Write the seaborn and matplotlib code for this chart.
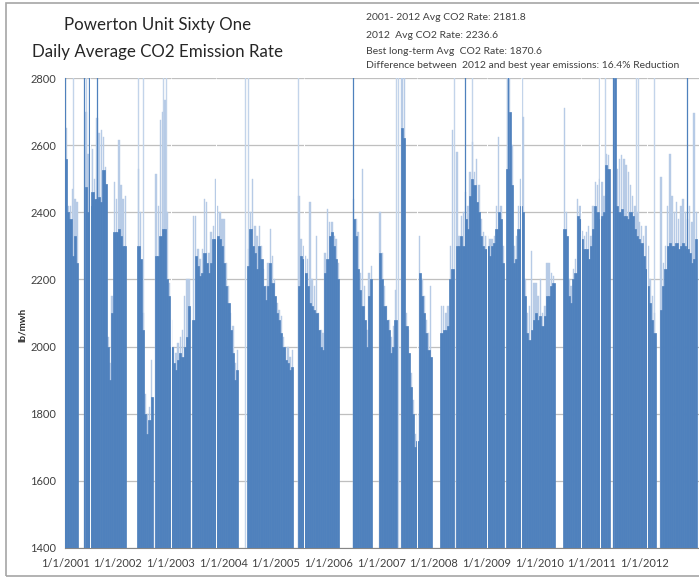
import numpy as np
import pandas as pd
import matplotlib
matplotlib.use('Agg')
import matplotlib.pyplot as plt
import seaborn as sb
from matplotlib.patches import Rectangle

# Semi-monthly typical daily CO2 rate (lb/mwh), 0 = unit offline
rate_2001 = [2560, 2400, 2380, 2270, 2330, 2250, 0, 0, 0, 2475, 2400, 2420, 2460, 2440, 2440, 2445, 2430, 2525, 2485, 2000, 1900, 2100, 2340, 2340]
rate_2002 = [2350, 2330, 2300, 2300, 0, 0, 0, 0, 0, 2300, 2260, 2050, 1800, 1740, 1780, 1850, 0, 2270, 2270, 2330, 2350, 2350, 2200, 2150]
rate_2003 = [2000, 1950, 1930, 1960, 1980, 1970, 2000, 2030, 2120, 0, 2080, 2270, 2240, 2210, 2220, 2280, 2250, 2220, 2250, 2320, 2320, 2330, 2320, 2300]
rate_2004 = [2250, 2180, 2130, 2050, 1980, 1900, 1930, 0, 0, 0, 0, 2240, 2350, 2300, 2280, 2230, 2300, 2260, 2180, 2140, 2180, 2250, 2190, 2150]
rate_2005 = [2100, 2080, 2040, 2000, 1960, 1950, 1930, 1940, 0, 0, 2180, 2270, 2260, 2220, 2180, 2130, 2120, 2110, 2100, 2050, 2000, 1990, 2220, 2260]
rate_2006 = [2330, 2340, 2300, 2260, 2200, 0, 0, 0, 0, 0, 0, 2380, 2330, 2230, 2170, 2120, 2080, 2000, 2150, 2200, 0, 0, 0, 2280]
rate_2007 = [2200, 2120, 2080, 2050, 1980, 2000, 2080, 0, 0, 2650, 2620, 2060, 1980, 1880, 1800, 1700, 1720, 2220, 2150, 2100, 2040, 1990, 1970, 0]
rate_2008 = [0, 0, 0, 2040, 2050, 2050, 2060, 2200, 2230, 0, 2300, 2300, 2330, 2300, 2380, 2350, 2450, 2500, 2480, 2430, 2400, 2330, 2300, 2290]
rate_2009 = [2300, 2270, 2300, 2310, 2350, 2400, 2380, 2250, 0, 2530, 2700, 2480, 2250, 2260, 2350, 2420, 2400, 2150, 2040, 2020, 2050, 2080, 2100, 2080]
rate_2010 = [2090, 2060, 2090, 2150, 2150, 2180, 2190, 0, 0, 0, 0, 2350, 2330, 2150, 2130, 2200, 2220, 2390, 2380, 2320, 2290, 2290, 2260, 2300]
rate_2011 = [2350, 2420, 2400, 2380, 2390, 2400, 2540, 2530, 0, 0, 2800, 2420, 2400, 2410, 2390, 2390, 2380, 2400, 2390, 2350, 2330, 2320, 2310, 2270]
rate_2012 = [2230, 2180, 2130, 2080, 2040, 0, 0, 2110, 2180, 2230, 2300, 2310, 2300, 2300, 2310, 2290, 2300, 2310, 2300, 2290, 2280, 2250, 2260, 2320]

# Highest days inside each half month (the pale fringe above the solid fill)
peak_2001 = [2650, 2420, 2420, 2470, 2440, 2430, 0, 0, 0, 2700, 2575, 2600, 2590, 2500, 2680, 2635, 2645, 2625, 2535, 2030, 1950, 2150, 2490, 2440]
peak_2002 = [2615, 2480, 2440, 2450, 0, 0, 0, 0, 0, 2530, 2400, 2100, 1860, 1800, 1820, 1960, 0, 2515, 2420, 2675, 2700, 2735, 2400, 2190]
peak_2003 = [2080, 2000, 1980, 2010, 2030, 2050, 2150, 2200, 2200, 0, 2390, 2390, 2290, 2260, 2290, 2440, 2430, 2280, 2340, 2360, 2500, 2420, 2400, 2380]
peak_2004 = [2380, 2250, 2180, 2100, 2060, 1950, 1990, 0, 0, 0, 0, 2290, 2400, 2500, 2360, 2330, 2360, 2300, 2230, 2180, 2250, 2350, 2270, 2200]
peak_2005 = [2130, 2110, 2090, 2030, 2000, 2000, 1970, 1990, 0, 0, 2450, 2320, 2300, 2270, 2260, 2430, 2200, 2180, 2330, 2100, 2050, 2040, 2280, 2410]
peak_2006 = [2370, 2370, 2330, 2320, 2250, 0, 0, 0, 0, 0, 0, 2440, 2380, 2340, 2220, 2530, 2180, 2050, 2220, 2240, 0, 0, 0, 2400]
peak_2007 = [2280, 2180, 2120, 2080, 2030, 2060, 2170, 0, 0, 2800, 2800, 2100, 2050, 1920, 1840, 1740, 1800, 2330, 2200, 2150, 2080, 2040, 2180, 0]
peak_2008 = [0, 0, 0, 2120, 2120, 2100, 2120, 2300, 2645, 0, 2580, 2330, 2390, 2400, 2460, 2420, 2520, 2610, 2520, 2560, 2480, 2380, 2340, 2330]
peak_2009 = [2330, 2320, 2320, 2330, 2420, 2625, 2420, 2300, 0, 2800, 2800, 2600, 2300, 2330, 2420, 2500, 2685, 2200, 2100, 2120, 2285, 2190, 2190, 2150]
peak_2010 = [2200, 2100, 2120, 2250, 2250, 2220, 2210, 0, 0, 0, 0, 2710, 2400, 2200, 2180, 2230, 2260, 2440, 2420, 2345, 2330, 2340, 2360, 2330]
peak_2011 = [2420, 2490, 2480, 2500, 2490, 2450, 2575, 2570, 0, 0, 2800, 2530, 2560, 2570, 2560, 2540, 2520, 2480, 2450, 2420, 2400, 2370, 2360, 2330]
peak_2012 = [2360, 2300, 2200, 2150, 2100, 0, 0, 2505, 2250, 2300, 2420, 2575, 2450, 2400, 2430, 2380, 2420, 2440, 2400, 2380, 2420, 2370, 2695, 2400]

# Single days that shoot off the top of the chart
pale_spike_dates = ['2001-02-23', '2001-05-24', '2002-05-20', '2002-06-22', '2002-11-12', '2002-12-01',
                    '2004-06-02', '2004-06-21', '2005-06-01', '2007-04-13', '2007-04-28', '2008-05-19',
                    '2008-09-19', '2009-05-19', '2009-08-31', '2011-02-19', '2011-04-03', '2011-10-30',
                    '2011-11-16', '2012-03-07']
pale_spike_values = [2900, 2900, 2900, 2900, 2900, 2900, 2900, 2900, 2900, 2900, 2900, 2900,
                     2900, 2900, 2900, 2900, 2900, 2900, 2900, 2900]
dark_spike_dates = ['2001-01-03', '2001-05-15', '2001-06-16', '2001-08-12', '2006-06-21', '2008-08-04',
                    '2009-06-01', '2011-05-28', '2012-10-18']
dark_spike_values = [2900, 2900, 2900, 2900, 2900, 2900, 2900, 2900, 2900]

# Single-day outages inside running periods
outage_dates = ['2001-06-22', '2003-01-03', '2003-11-12', '2005-07-13', '2007-09-08', '2009-01-02',
                '2009-08-26', '2010-10-16', '2011-02-24', '2012-01-14']

years = list(range(2001, 2013))
rates = np.concatenate([rate_2001, rate_2002, rate_2003, rate_2004, rate_2005, rate_2006,
                        rate_2007, rate_2008, rate_2009, rate_2010, rate_2011, rate_2012])
peaks = np.concatenate([peak_2001, peak_2002, peak_2003, peak_2004, peak_2005, peak_2006,
                        peak_2007, peak_2008, peak_2009, peak_2010, peak_2011, peak_2012])
# half-month slots, bar centre in decimal years
slot = np.array([(y - 2001) * 24 + i for y in years for i in range(24)])
df = pd.DataFrame({'t': 2001 + (slot + 0.5) / 24, 'rate': rates, 'peak': peaks})


def to_year(dates):
    d = pd.to_datetime(pd.Series(dates))
    return (d.dt.year + (d.dt.dayofyear - 1) / 365.25).to_numpy()


sb.set_style('white')
plt.rcParams['font.family'] = ['Lato', 'DejaVu Sans']

W, H = 699, 577
fig = plt.figure(figsize=(W / 100, H / 100), dpi=100)
ax = fig.add_axes([65 / W, 1 - 548 / H, (W - 65) / W, 470 / H])

blue = '#4F81BD'
pale = '#B7CBE6'
ax.vlines(to_year(pale_spike_dates), 1400, pale_spike_values, color='#C3D4EA', lw=1.0, zorder=1)
sb.barplot(data=df, x='t', y='peak', native_scale=True, width=0.65, color=pale, saturation=1,
           errorbar=None, linewidth=0.3, edgecolor=pale, ax=ax, zorder=2)
sb.barplot(data=df, x='t', y='rate', native_scale=True, width=1.0, color=blue, saturation=1,
           errorbar=None, linewidth=0.5, edgecolor=blue, ax=ax, zorder=3)
ax.vlines(to_year(dark_spike_dates), 1400, dark_spike_values, color=blue, lw=0.9, zorder=3)
ax.vlines(to_year(outage_dates), 1400, 2800, color='white', lw=0.7, zorder=4)

ax.set_xlim(2001, 2001 + (W - 65) / 52.7)
ax.set_ylim(1400, 2800)
ax.set_yticks(range(1400, 2801, 200))
ax.set_xticks(years)
ax.set_xticklabels([f'1/1/{y}' for y in years])
ax.tick_params(axis='both', labelsize=8, colors='#404040', length=3, width=0.8, direction='out')
ax.tick_params(axis='x', pad=4)
ax.yaxis.grid(True, color='#BFBFBF', lw=0.9, zorder=0)
ax.xaxis.grid(False)
ax.set_axisbelow(True)
for side in ['top', 'right']:
    ax.spines[side].set_visible(False)
for side in ['left', 'bottom']:
    ax.spines[side].set_color('#868686')
    ax.spines[side].set_linewidth(0.8)
ax.set_xlabel('')
ax.set_ylabel('')

fig.text(22 / W, 1 - 325 / H, 'lb/mwh', rotation=90, ha='center', va='center',
         fontsize=7, fontweight='bold', color='#262626')

fig.text(158 / W, 1 - 25 / H, 'Powerton Unit Sixty One', ha='center', va='center', fontsize=12.2, color='#262626')
fig.text(158 / W, 1 - 52 / H, 'Daily Average CO2 Emission Rate', ha='center', va='center', fontsize=12.2, color='#262626')

notes = ['2001- 2012 Avg CO2 Rate: 2181.8',
         '2012  Avg CO2 Rate: 2236.6',
         'Best long-term Avg  CO2 Rate: 1870.6',
         'Difference between  2012 and best year emissions: 16.4% Reduction']
for txt, yy in zip(notes, [17, 35, 51, 65]):
    fig.text(366 / W, 1 - yy / H, txt, ha='left', va='center', fontsize=7.5, color='#404040')

fig.patches.append(Rectangle((6 / W, 1 / H), 2, 1 - 4 / H, transform=fig.transFigure,
                             fill=False, edgecolor='#A6A6A6', lw=1.2))

fig.savefig('out.png', dpi=100)
